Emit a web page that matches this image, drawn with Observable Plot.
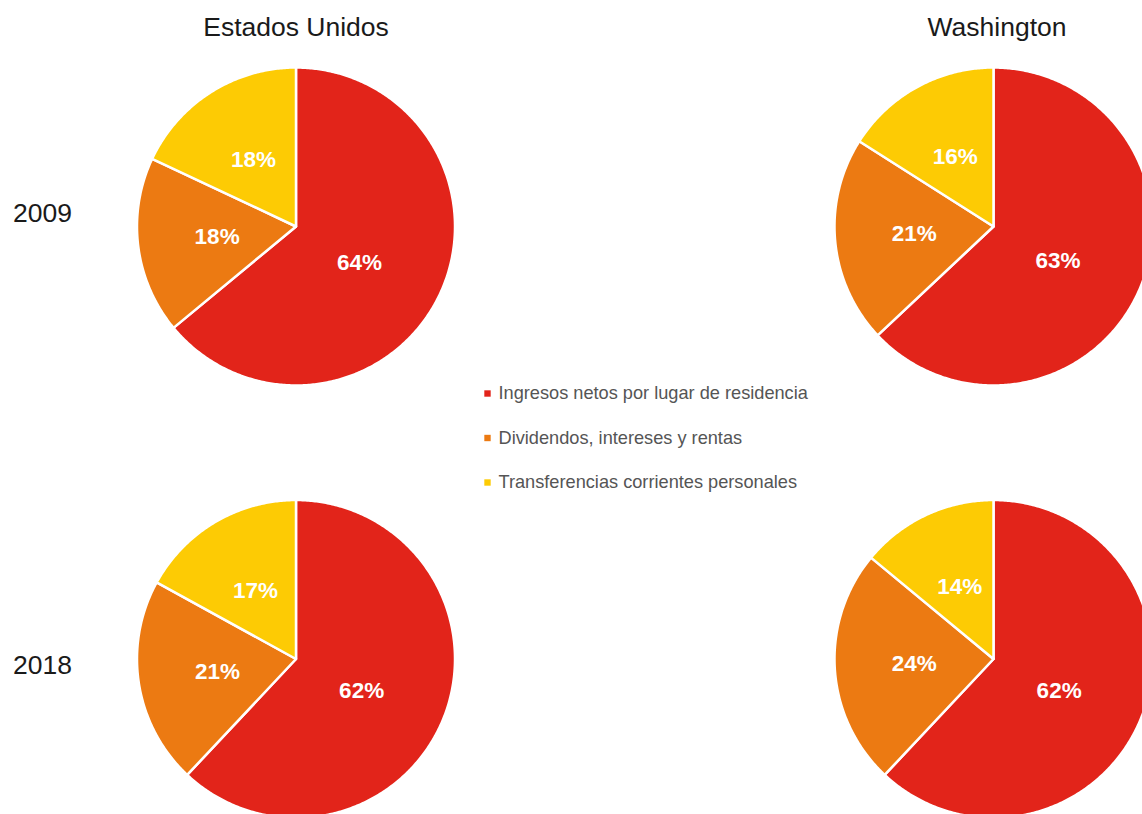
<!DOCTYPE html>
<html>
<head>
<meta charset="utf-8">
<script src="https://cdn.jsdelivr.net/npm/d3@7"></script>
<script src="https://cdn.jsdelivr.net/npm/@observablehq/plot@0.6"></script>
<style>
  html, body { margin: 0; padding: 0; background: #fff; overflow: hidden; }
  svg { display: block; font-family: "Liberation Sans", Arial, sans-serif; }
</style>
</head>
<body>
<div id="chart"></div>
<script>
// ---- data ----
const regions = ["Estados Unidos", "Washington"];
const years = ["2009", "2018"];
const categories = [
  "Ingresos netos por lugar de residencia",
  "Dividendos, intereses y rentas",
  "Transferencias corrientes personales"
];
const colors = ["#E2241A", "#EC7A12", "#FDCB04"];
const us2009 = [64, 18, 18];
const wa2009 = [63, 21, 16];
const us2018 = [62, 21, 17];
const wa2018 = [62, 24, 14];

// ---- layout ----
const W = 1142, H = 814;
const colX = [295.5, 993];
const rowY = [226, 658.5];
const R = 159;

const pies = [
  {region: 0, year: 0, values: us2009},
  {region: 1, year: 0, values: wa2009},
  {region: 0, year: 1, values: us2018},
  {region: 1, year: 1, values: wa2018}
];

const slicePts = [];
const labels = [];
for (const p of pies) {
  const cx = colX[p.region], cy = rowY[p.year];
  const total = d3.sum(p.values);
  const arcs = d3.pie().sort(null).value(d => d)(p.values);
  arcs.forEach((a, i) => {
    const id = `${p.region}-${p.year}-${i}`;
    const cat = categories[i];
    slicePts.push({id, cat, x: cx, y: cy});
    const n = Math.max(2, Math.ceil((a.endAngle - a.startAngle) / 0.01));
    for (let k = 0; k <= n; k++) {
      const t = a.startAngle + (a.endAngle - a.startAngle) * k / n;
      slicePts.push({id, cat, x: cx + R * Math.sin(t), y: cy - R * Math.cos(t)});
    }
    slicePts.push({id, cat, x: cx, y: cy});
    const m = (a.startAngle + a.endAngle) / 2 + (i === 0 ? 0.08 : 0);
    const lr = i === 0 ? 0.46 * R : 0.5 * R;
    labels.push({
      x: cx + lr * Math.sin(m),
      y: cy - lr * Math.cos(m),
      text: Math.round(p.values[i] / total * 100) + "%"
    });
  });
}

const titles = regions.map((r, i) => ({text: r, x: colX[i] + (i === 1 ? 3.5 : 0), y: 27}));
const yearLabels = years.map((y, i) => ({text: y, x: 42, y: i === 0 ? 213 : 665}));
const legend = categories.map((c, i) => ({text: c, cat: c, x: 487, y: 393 + i * 44.5}));

const chart = Plot.plot({
  width: W,
  height: H,
  margin: 0,
  x: {domain: [0, W], range: [0, W], axis: null},
  y: {domain: [0, H], range: [0, H], axis: null},
  color: {domain: categories, range: colors},
  style: {fontFamily: "'Liberation Sans', Arial, sans-serif", background: "#fff"},
  marks: [
    Plot.line(slicePts, {x: "x", y: "y", z: "id", fill: "cat", stroke: "#fff", strokeWidth: 2.5, curve: "linear-closed"}),
    Plot.text(labels, {x: "x", y: "y", text: "text", fill: "#fff", fontSize: 22.5, fontWeight: "bold"}),
    Plot.text(titles, {x: "x", y: "y", text: "text", fill: "#1a1a1a", fontSize: 26.5}),
    Plot.text(yearLabels, {x: "x", y: "y", text: "text", fill: "#1a1a1a", fontSize: 26.5}),
    Plot.dot(legend, {x: "x", y: "y", fill: "cat", symbol: "square", r: 3.6}),
    Plot.text(legend, {x: d => d.x + 11, y: "y", text: "text", textAnchor: "start", fill: "#555", fontSize: 18.2})
  ]
});
document.getElementById("chart").appendChild(chart);
</script>
</body>
</html>
